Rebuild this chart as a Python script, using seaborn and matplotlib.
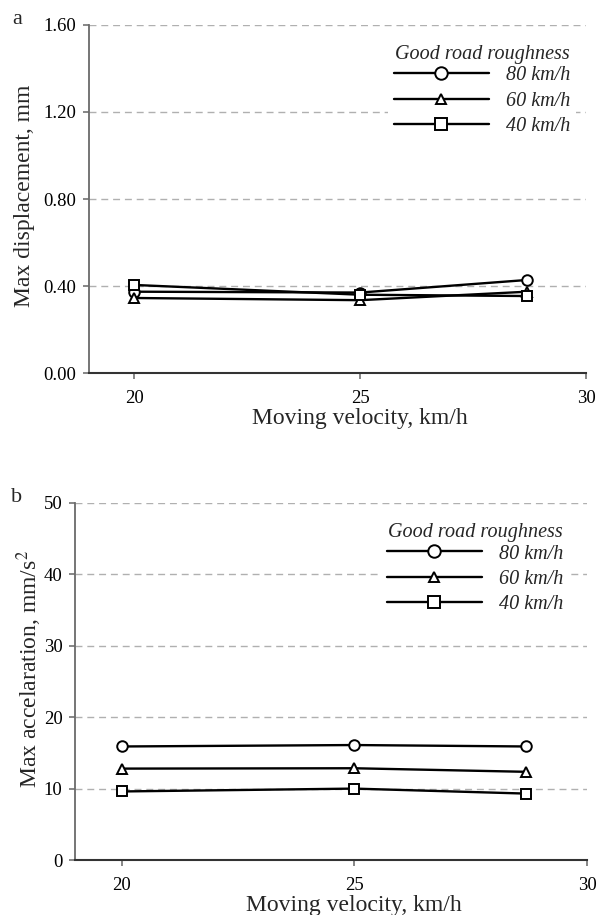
import matplotlib
matplotlib.use("Agg")
import matplotlib.pyplot as plt
import seaborn as sns
import pandas as pd

velocity = [20, 25, 28.7]
series_labels = ["80 km/h", "60 km/h", "40 km/h"]
disp_80 = [0.374, 0.370, 0.428]
disp_60 = [0.345, 0.335, 0.374]
disp_40 = [0.405, 0.360, 0.354]
acc_80 = [15.9, 16.1, 15.9]
acc_60 = [12.8, 12.85, 12.35]
acc_40 = [9.6, 10.0, 9.3]
disp_ticks = [0.0, 0.4, 0.8, 1.2, 1.6]
acc_ticks = [0, 10, 20, 30, 40, 50]
x_ticks = [20, 25, 30]

sns.set_style("ticks")
plt.rcParams["font.family"] = ["Liberation Serif", "DejaVu Serif"]
plt.rcParams["mathtext.fontset"] = "stix"

markers = {"80 km/h": "o", "60 km/h": "^", "40 km/h": "s"}
msizes = {"80 km/h": 7.6, "60 km/h": 6.6, "40 km/h": 7.8}
leg_msizes = {"80 km/h": 9.0, "60 km/h": 7.8, "40 km/h": 9.0}

fig = plt.figure(figsize=(5.97, 9.15), dpi=100)
ax1 = fig.add_axes([0.149, 0.5923, 0.833, 0.3804])
ax2 = fig.add_axes([0.1256, 0.0601, 0.8576, 0.3902])


def draw(ax, data_list, ylim, yticks, fmt, ylabel, ylab_y, ylab_pad, bbox):
    for lab, vals in zip(series_labels, data_list):
        df = pd.DataFrame({"x": velocity, "y": vals})
        sns.lineplot(data=df, x="x", y="y", ax=ax, color="black", lw=1.7,
                     marker=markers[lab], markersize=msizes[lab],
                     markerfacecolor="white", markeredgecolor="black",
                     markeredgewidth=1.4, label=lab, zorder=3)
    ax.set_xlim(19, 30)
    ax.set_ylim(*ylim)
    ax.set_xticks(x_ticks)
    ax.set_yticks(yticks)
    ax.set_yticklabels([fmt.format(t) for t in yticks])
    ax.yaxis.grid(True, color="#b0b0b0", ls=(0, (5, 3.5)), lw=1.0)
    ax.set_axisbelow(True)
    for s in ["top", "right"]:
        ax.spines[s].set_visible(False)
    ax.spines["left"].set_color("#6a6a6a")
    ax.spines["left"].set_linewidth(1.3)
    ax.spines["bottom"].set_color("#333333")
    ax.spines["bottom"].set_linewidth(1.5)
    ax.tick_params(axis="both", labelsize=13.5, length=4, width=1.1,
                   colors="#666666", labelcolor="black")
    ax.tick_params(axis="x", pad=8)
    ax.tick_params(axis="y", pad=5)
    ax.set_xlabel("Moving velocity, km/h", fontsize=17, labelpad=1, x=0.545)
    ax.set_ylabel(ylabel, fontsize=17, labelpad=ylab_pad, y=ylab_y)
    leg = ax.legend(title="Good road roughness", loc="upper right",
                    bbox_to_anchor=bbox, frameon=True, facecolor="white",
                    edgecolor="none", framealpha=1.0, fancybox=False,
                    handlelength=4.7, handletextpad=0.85, labelspacing=0.3,
                    borderpad=0.3, prop={"style": "italic", "size": 14.5},
                    title_fontproperties={"style": "italic", "size": 14.5})
    leg._legend_box.sep = 2.0
    for h, lab in zip(leg.legend_handles, series_labels):
        h.set_markersize(leg_msizes[lab])
    leg.set_zorder(5)


draw(ax1, [disp_80, disp_60, disp_40], (0, 1.6), disp_ticks, "{:.2f}",
     "Max displacement, mm", 0.51, 6, (1.0, 0.99))
draw(ax2, [acc_80, acc_60, acc_40], (0, 50), acc_ticks, "{:.0f}",
     "Max accelaration, mm/s$^2$", 0.535, 0, (0.985, 0.99))

fig.text(17 / 597, 1 - 20 / 915, "a", fontsize=16, va="center", ha="center")
fig.text(17 / 597, 1 - 498 / 915, "b", fontsize=16, va="center", ha="center")

fig.savefig("out.png", dpi=100)
